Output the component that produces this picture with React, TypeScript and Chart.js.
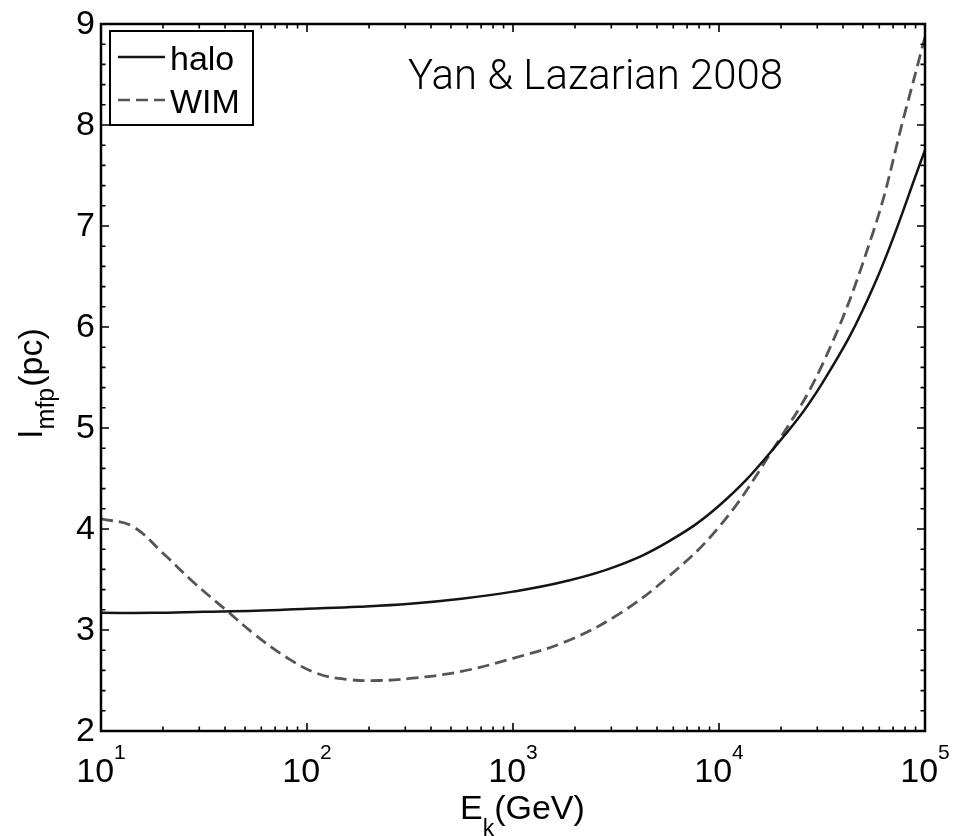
import { useEffect, useRef } from "react";
import { Chart, registerables } from "chart.js";

Chart.register(...registerables);

// Mean free path of cosmic rays versus kinetic energy
const haloEnergy = [10, 17.8, 31.6, 56.2, 100, 178, 316, 562, 1000, 1778, 3162, 5623, 10000, 17783, 31623, 56234, 100000];
const haloMfp = [3.17, 3.17, 3.18, 3.19, 3.21, 3.23, 3.26, 3.31, 3.38, 3.48, 3.63, 3.87, 4.23, 4.76, 5.44, 6.4, 7.75];

const wimEnergy = [10, 14.1, 20, 28.2, 39.8, 56.2, 79.4, 112, 158, 224, 316, 562, 1000, 1778, 3162, 5623, 10000, 17783, 31623, 56234, 79433, 100000];
const wimMfp = [4.1, 4.03, 3.76, 3.47, 3.21, 2.95, 2.73, 2.57, 2.51, 2.5, 2.52, 2.59, 2.72, 2.88, 3.14, 3.52, 4.02, 4.75, 5.62, 6.95, 8.1, 8.87];

const xExponents = [1, 2, 3, 4, 5];
const yTickValues = [2, 3, 4, 5, 6, 7, 8, 9];
const seriesLabels = ["halo", "WIM"];
const seriesColors = ["#141414", "#555555"];
const annotationText = "Yan & Lazarian 2008";

const FONT = '"Liberation Sans", Arial, Helvetica, sans-serif';
const DASH = [12, 6];

export default function App() {
  const ref = useRef<HTMLCanvasElement>(null);

  useEffect(() => {
    const canvas = ref.current;
    if (!canvas) return;

    const axesPlugin = {
      id: "matlabAxes",
      afterDraw(chart: any) {
        const { ctx, chartArea: a, scales } = chart;
        const xs = scales.x;
        const ys = scales.y;
        ctx.save();
        ctx.strokeStyle = "#000";
        ctx.fillStyle = "#000";

        // inward ticks on all four sides
        ctx.lineWidth = 1.6;
        ctx.beginPath();
        for (let e = 1; e <= 5; e++) {
          for (let k = 1; k <= 9; k++) {
            const v = k * Math.pow(10, e);
            if (v > 100000) break;
            const px = xs.getPixelForValue(v);
            const len = k === 1 ? 8 : 4.5;
            ctx.moveTo(px, a.bottom);
            ctx.lineTo(px, a.bottom - len);
            ctx.moveTo(px, a.top);
            ctx.lineTo(px, a.top + len);
          }
        }
        for (let i = 0; i <= 35; i++) {
          const v = 2 + i * 0.2;
          const py = ys.getPixelForValue(v);
          const len = i % 5 === 0 ? 8 : 4.5;
          ctx.moveTo(a.left, py);
          ctx.lineTo(a.left + len, py);
          ctx.moveTo(a.right, py);
          ctx.lineTo(a.right - len, py);
        }
        ctx.stroke();

        // frame
        ctx.lineWidth = 2.5;
        ctx.strokeRect(a.left, a.top, a.right - a.left, a.bottom - a.top);

        // y tick labels
        ctx.font = `34px ${FONT}`;
        ctx.textAlign = "right";
        ctx.textBaseline = "middle";
        for (const v of yTickValues) {
          ctx.fillText(String(v), a.left - 6, ys.getPixelForValue(v) + 1);
        }

        // x tick labels: 10 with superscript exponent
        ctx.textAlign = "left";
        ctx.textBaseline = "alphabetic";
        for (const e of xExponents) {
          const px = xs.getPixelForValue(Math.pow(10, e));
          ctx.font = `34px ${FONT}`;
          const w1 = ctx.measureText("10").width;
          ctx.font = `21px ${FONT}`;
          const w2 = ctx.measureText(String(e)).width;
          const x0 = px - (w1 + w2) / 2;
          ctx.font = `34px ${FONT}`;
          ctx.fillText("10", x0, a.bottom + 51);
          ctx.font = `21px ${FONT}`;
          ctx.fillText(String(e), x0 + w1, a.bottom + 28);
        }

        // x axis title: E_k(GeV)
        {
          let x = 460;
          const base = a.bottom + 88;
          ctx.font = `34px ${FONT}`;
          ctx.fillText("E", x, base);
          x += ctx.measureText("E").width;
          ctx.font = `23px ${FONT}`;
          ctx.fillText("k", x, base + 17);
          x += ctx.measureText("k").width;
          ctx.font = `34px ${FONT}`;
          ctx.fillText("(GeV)", x, base);
        }

        // y axis title: l_mfp(pc), rotated
        {
          ctx.save();
          ctx.translate(42, 438);
          ctx.rotate(-Math.PI / 2);
          let x = 0;
          ctx.font = `34px ${FONT}`;
          ctx.fillText("l", x, 0);
          x += ctx.measureText("l").width + 1;
          ctx.font = `25px ${FONT}`;
          ctx.fillText("mfp", x, 12);
          x += ctx.measureText("mfp").width + 1;
          ctx.font = `34px ${FONT}`;
          ctx.fillText("(pc)", x, 0);
          ctx.restore();
        }

        // legend box
        {
          const bx = a.left + 9;
          const by = a.top + 7;
          const bw = 143;
          const bh = 94;
          ctx.fillStyle = "#fff";
          ctx.fillRect(bx, by, bw, bh);
          ctx.lineWidth = 2;
          ctx.strokeStyle = "#000";
          ctx.strokeRect(bx, by, bw, bh);
          const rows = [26, 69];
          seriesLabels.forEach((label, i) => {
            const ly = by + rows[i];
            ctx.strokeStyle = seriesColors[i];
            ctx.lineWidth = 2.6;
            ctx.setLineDash(i === 1 ? DASH : []);
            ctx.beginPath();
            ctx.moveTo(bx + 8, ly);
            ctx.lineTo(bx + 55, ly);
            ctx.stroke();
            ctx.setLineDash([]);
            ctx.fillStyle = "#000";
            ctx.font = `34px ${FONT}`;
            ctx.textBaseline = "alphabetic";
            ctx.fillText(label, bx + 60, ly + 13);
          });
        }

        // annotation, light face
        {
          const face = '"Roboto", "Liberation Sans", sans-serif';
          ctx.font = `300 40px ${face}`;
          const w = ctx.measureText(annotationText).width;
          const size = (40 * 375) / w;
          ctx.font = `300 ${size.toFixed(2)}px ${face}`;
          ctx.fillStyle = "#000";
          ctx.fillText(annotationText, 408, 89);
        }

        ctx.restore();
      },
    };

    const chart = new Chart(canvas, {
      type: "line",
      data: {
        datasets: [
          {
            label: seriesLabels[0],
            data: haloEnergy.map((x, i) => ({ x, y: haloMfp[i] })),
            borderColor: seriesColors[0],
            borderWidth: 2.5,
            pointRadius: 0,
            fill: false,
            tension: 0.4,
          },
          {
            label: seriesLabels[1],
            data: wimEnergy.map((x, i) => ({ x, y: wimMfp[i] })),
            borderColor: seriesColors[1],
            borderWidth: 2.8,
            borderDash: DASH,
            pointRadius: 0,
            fill: false,
            tension: 0.4,
          },
        ],
      },
      options: {
        responsive: false,
        animation: false,
        events: [],
        layout: { padding: { left: 101, right: 33, top: 24, bottom: 105 } },
        scales: {
          x: { type: "logarithmic", min: 10, max: 100000, display: false },
          y: { type: "linear", min: 2, max: 9, display: false },
        },
        plugins: { legend: { display: false }, tooltip: { enabled: false } },
      },
      plugins: [axesPlugin],
    });

    return () => chart.destroy();
  }, []);

  return (
    <div style={{ position: "absolute", left: 0, top: 0, width: 958, height: 836, background: "#fff" }}>
      <canvas ref={ref} width={958} height={836} style={{ display: "block" }} />
    </div>
  );
}
